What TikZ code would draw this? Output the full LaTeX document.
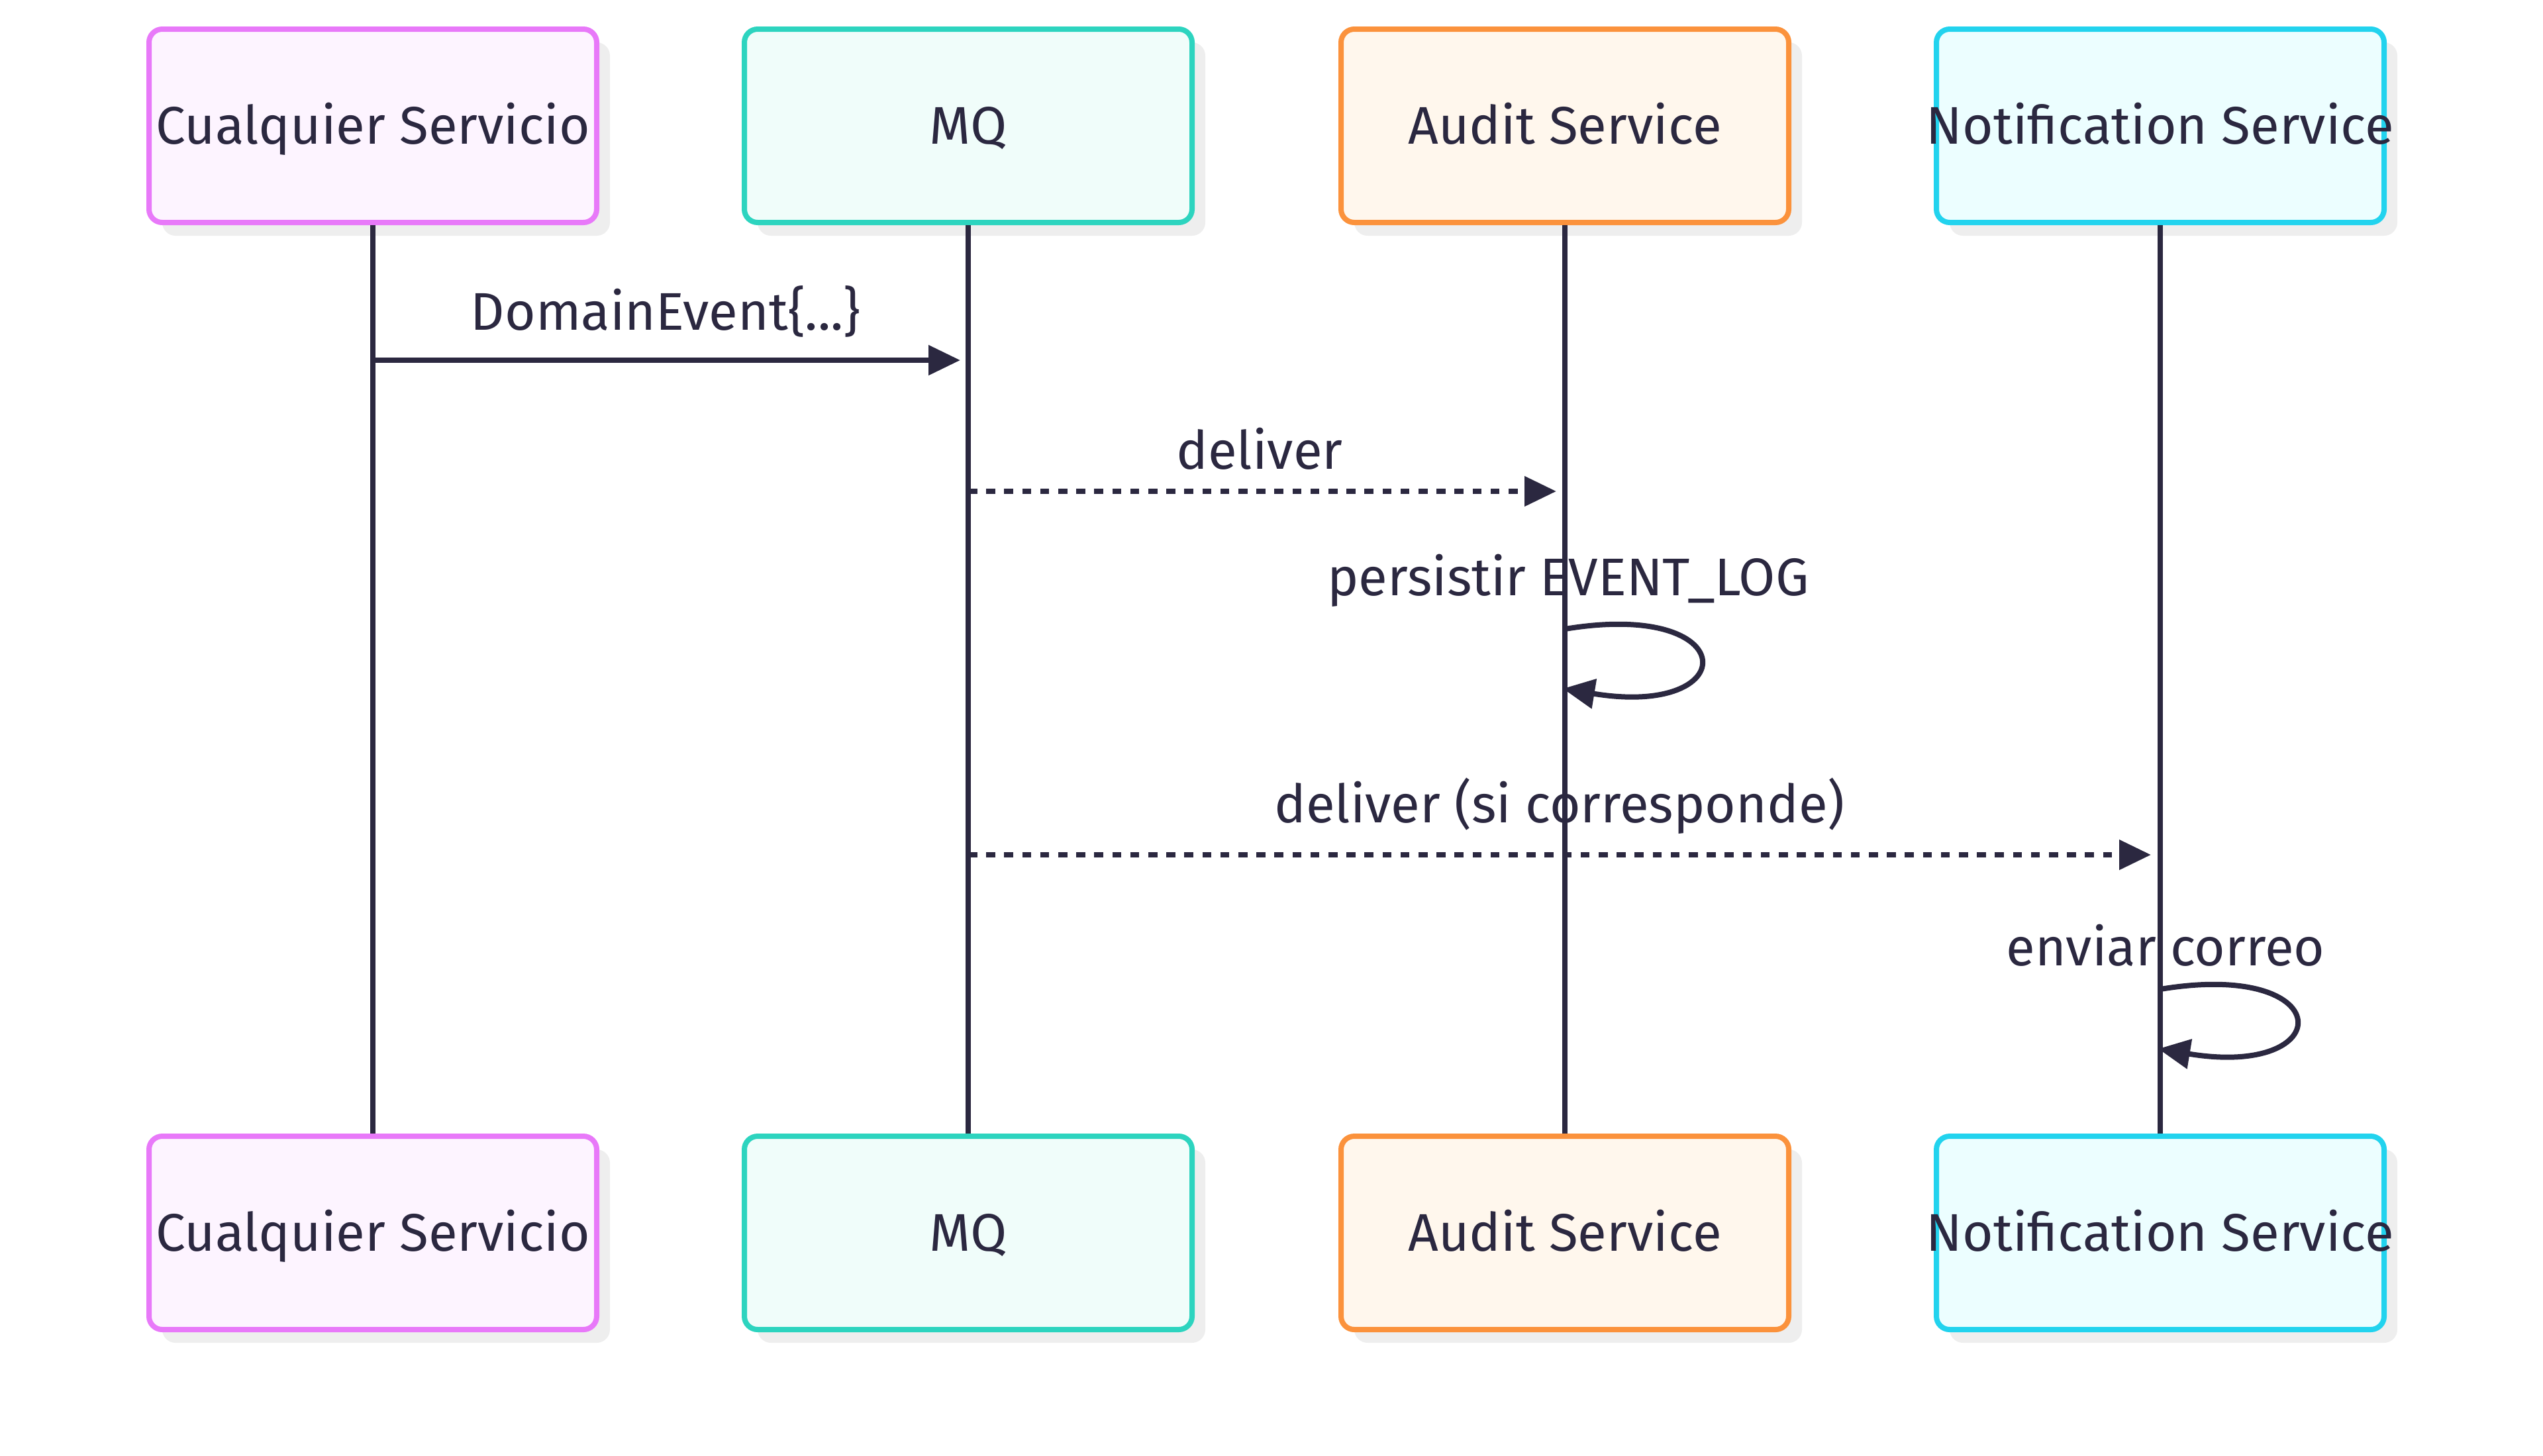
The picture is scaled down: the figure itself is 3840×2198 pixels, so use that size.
\documentclass[tikz,border=0pt]{standalone}
\usepackage{fontspec}
\setmainfont{Fira Sans}
\usetikzlibrary{shadows,arrows.meta}
\definecolor{ink}{HTML}{2B2840}
\definecolor{shadowgray}{HTML}{EEEEEE}
\definecolor{pinkB}{HTML}{E879F9}\definecolor{pinkF}{HTML}{FDF4FF}
\definecolor{tealB}{HTML}{2DD4BF}\definecolor{tealF}{HTML}{F0FDFA}
\definecolor{orangeB}{HTML}{FB923C}\definecolor{orangeF}{HTML}{FFF7ED}
\definecolor{cyanB}{HTML}{22D3EE}\definecolor{cyanF}{HTML}{ECFEFF}
\newcommand{\zbox}[1]{\makebox[0pt][c]{#1}}
\begin{document}
\begin{tikzpicture}[x=0.25pt,y=-0.25pt,
  actor/.style={draw, line width=2pt, rounded corners=5pt, minimum width=169pt,
    minimum height=73pt, inner sep=0pt, text=ink, font=\fontsize{20}{24}\selectfont,
    text height=17.8pt, text depth=4pt,
    drop shadow={shadow xshift=5pt, shadow yshift=-5pt, fill=shadowgray, opacity=1}},
  pinkbox/.style={actor, draw=pinkB, fill=pinkF},
  tealbox/.style={actor, draw=tealB, fill=tealF},
  orangebox/.style={actor, draw=orangeB, fill=orangeF},
  cyanbox/.style={actor, draw=cyanB, fill=cyanF},
  life/.style={draw=ink, line width=2pt},
  msg/.style={draw=ink, line width=2pt, -{Triangle[length=12pt,width=11pt]}},
  dotmsg/.style={msg, dash pattern=on 3.4pt off 3.4pt},
  lbl/.style={text=ink, font=\fontsize{20}{24}\selectfont, inner sep=0pt}
]
\useasboundingbox (0,0) rectangle (3840,2198);
% actors
\node[pinkbox]   (a1) at (563,190)  {\zbox{Cualquier Servicio}};
\node[tealbox]   (a2) at (1462,190) {\zbox{MQ}};
\node[orangebox] (a3) at (2363,190) {\zbox{Audit Service}};
\node[cyanbox]   (a4) at (3262,190) {\zbox{Notification Service}};
\node[pinkbox]   (b1) at (563,1862)  {\zbox{Cualquier Servicio}};
\node[tealbox]   (b2) at (1462,1862) {\zbox{MQ}};
\node[orangebox] (b3) at (2363,1862) {\zbox{Audit Service}};
\node[cyanbox]   (b4) at (3262,1862) {\zbox{Notification Service}};
% lifelines
\draw[life] (a1.south) -- (b1.north);
\draw[life] (a2.south) -- (b2.north);
\draw[life] (a3.south) -- (b3.north);
\draw[life] (a4.south) -- (b4.north);
% message points
\coordinate (m1s) at (563,544);  \coordinate (m1e) at (1450,544);
\coordinate (m2s) at (1462,742); \coordinate (m2e) at (2350,742);
\coordinate (s1s) at (2363,950); \coordinate (s1e) at (2360,1040);
\coordinate (m3s) at (1462,1291);\coordinate (m3e) at (3248,1291);
\coordinate (s2s) at (3262,1494);\coordinate (s2e) at (3259,1584);
% messages
\draw[msg] (m1s) -- (m1e);
\node[lbl] (t1) at (1005,470) {DomainEvent\{...\}};
\draw[dotmsg] (m2s) -- (m2e);
\node[lbl] (t2) at (1902,678) {deliver};
\node[lbl] (t3) at (2368,877) {persistir EVENT\_LOG};
\draw[msg] (s1s) .. controls (2633,905) and (2633,1085) .. (s1e);
\draw[dotmsg] (m3s) -- (m3e);
\node[lbl] (t4) at (2355,1217) {deliver (si corresponde)};
\node[lbl] (t5) at (3270,1428) {enviar correo};
\draw[msg] (s2s) .. controls (3532,1449) and (3532,1629) .. (s2e);
\end{tikzpicture}
\end{document}
